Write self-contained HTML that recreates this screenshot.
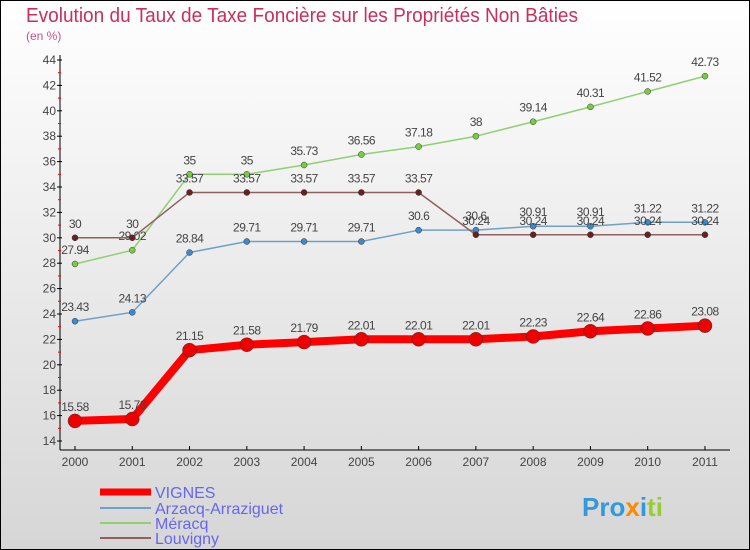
<!DOCTYPE html>
<html><head><meta charset="utf-8"><style>
body{margin:0}
#c{width:750px;height:550px;position:relative;overflow:hidden}
svg{display:block;font-family:"Liberation Sans",sans-serif}
</style></head><body>
<div id="c">
<svg id="s" width="750" height="550">
<defs><linearGradient id="bg" x1="0" y1="0" x2="0" y2="1"><stop offset="0" stop-color="#ffffff"/><stop offset="1" stop-color="#d6d6d6"/></linearGradient></defs>
<rect x="0.5" y="0.5" width="749" height="549" fill="url(#bg)" stroke="#000"/>
<text x="26" y="22" font-size="20" fill="#c8305a" textLength="552" lengthAdjust="spacingAndGlyphs">Evolution du Taux de Taxe Foncière sur les Propriétés Non Bâties</text>
<text x="26" y="40" font-size="12" fill="#c8508a">(en %)</text>
<g id="axes"></g><g id="series"></g>
<g>
<line x1="100" y1="492" x2="151" y2="492" stroke="#f00" stroke-width="7"/>
<text x="155" y="498" font-size="16" fill="#6666ee">VIGNES</text>
<line x1="100" y1="508" x2="151" y2="508" stroke="#6fa0c8" stroke-width="2"/>
<text x="155" y="514" font-size="16" fill="#6666ee">Arzacq-Arraziguet</text>
<line x1="100" y1="523" x2="151" y2="523" stroke="#90d070" stroke-width="2"/>
<text x="155" y="529" font-size="16" fill="#6666ee">Méracq</text>
<line x1="100" y1="538" x2="151" y2="538" stroke="#906060" stroke-width="2"/>
<text x="155" y="544" font-size="16" fill="#6666ee">Louvigny</text>
</g>
<text x="582" y="516" font-size="26" font-weight="bold" fill="#3399dd">Pro<tspan fill="#ff8800">x</tspan>i<tspan fill="#99cc33">ti</tspan></text>
</svg></div>
<script>
const years=[2000,2001,2002,2003,2004,2005,2006,2007,2008,2009,2010,2011];
const yTicks=[14,16,18,20,22,24,26,28,30,32,34,36,38,40,42,44];
const vignes=[15.58,15.73,21.15,21.58,21.79,22.01,22.01,22.01,22.23,22.64,22.86,23.08];
const arzacq=[23.43,24.13,28.84,29.71,29.71,29.71,30.6,30.6,30.91,30.91,31.22,31.22];
const meracq=[27.94,29.02,35,35,35.73,36.56,37.18,38,39.14,40.31,41.52,42.73];
const louvigny=[30,30,33.57,33.57,33.57,33.57,33.57,30.24,30.24,30.24,30.24,30.24];
const NS="http://www.w3.org/2000/svg";
const X=i=>75+i*57.27;
const Y=v=>441-(v-14)*12.7;
function mk(p,t,a){const e=document.createElementNS(NS,t);for(const k in a)e.setAttribute(k,a[k]);p.appendChild(e);return e;}
const ax=document.getElementById('axes'),sr=document.getElementById('series');
const yl=mk(ax,'line',{x1:60,y1:55,x2:60,y2:450,stroke:'#000'});


const xl=mk(ax,'line',{x1:60,y1:450,x2:730,y2:450,stroke:'#000'});


yTicks.forEach((v,i)=>{
 mk(ax,'line',{x1:57,y1:Y(v),x2:62,y2:Y(v),stroke:'#000'});
 if(i<yTicks.length-1)mk(ax,'line',{x1:58,y1:Y(v+1),x2:61,y2:Y(v+1),stroke:'#f00'});
 const t=mk(ax,'text',{x:56,y:Y(v)+4,'font-size':12,fill:'#444','text-anchor':'end'});t.textContent=v;
 
 
});
years.forEach((y,i)=>{
 mk(ax,'line',{x1:X(i),y1:446,x2:X(i),y2:450,stroke:'#000'});
 const t=mk(ax,'text',{x:X(i),y:466,'font-size':12,fill:'#444','text-anchor':'middle'});t.textContent=y;
 
 
});
function draw(d,name,col,w,r,dot){
 const g=mk(sr,'g',{});
 
 
 mk(g,'polyline',{points:d.map((v,i)=>X(i)+','+Y(v)).join(' '),fill:'none',stroke:col,'stroke-width':w,'stroke-linejoin':'round'});
 d.forEach((v,i)=>{
  const c=mk(g,'circle',{cx:X(i),cy:Y(v),r:r,fill:dot,stroke:'#333','stroke-width':0.5});
  
  
  const t=mk(g,'text',{x:X(i),y:Y(v)-10,'font-size':12,fill:'#444','text-anchor':'middle','letter-spacing':'-0.5'});t.textContent=v;
  
  
 });
}
draw(arzacq,'arzacq','#6fa0c8',1.5,3,'#3f88cc');
draw(meracq,'meracq','#90d070',1.5,3,'#77cc44');
draw(louvigny,'louvigny','#906060',1.5,3,'#662222');
draw(vignes,'vignes','#f00',8,7,'#e00');
</script>
</body></html>
